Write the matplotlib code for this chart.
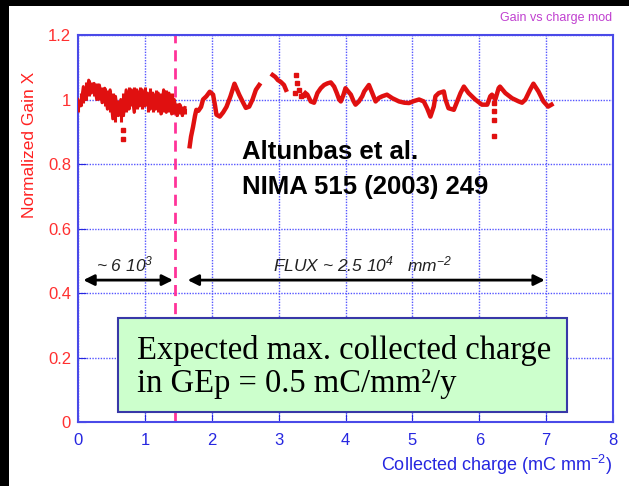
import matplotlib
matplotlib.use("Agg")
import matplotlib.pyplot as plt
from matplotlib.patches import Rectangle

plt.rcParams["mathtext.fontset"] = "custom"
plt.rcParams["mathtext.it"] = "Liberation Sans:italic"
plt.rcParams["mathtext.rm"] = "Liberation Sans:italic"

# noisy part of the scan: lower / upper edge of the scatter band
noisy_x = [0.00, 0.04, 0.08, 0.12, 0.16, 0.20, 0.24, 0.28, 0.32, 0.36, 0.40, 0.44,
           0.48, 0.52, 0.56, 0.60, 0.64, 0.68, 0.72, 0.76, 0.80, 0.84, 0.88, 0.92,
           0.96, 1.00, 1.04, 1.08, 1.12, 1.16, 1.20, 1.24, 1.28, 1.32, 1.36, 1.40,
           1.44, 1.48, 1.52, 1.56, 1.60]
noisy_lo = [0.96, 0.98, 0.99, 1.00, 1.01, 1.02, 1.01, 1.00, 1.00, 0.99, 0.98, 0.97,
            0.96, 0.94, 0.93, 0.95, 0.93, 0.95, 0.96, 0.97, 0.98, 0.96, 0.97, 0.98,
            0.97, 0.98, 0.96, 0.97, 0.96, 0.97, 0.96, 0.955, 0.96, 0.96, 0.96, 0.955,
            0.955, 0.95, 0.955, 0.95, 0.955]
noisy_hi = [1.00, 1.02, 1.04, 1.055, 1.06, 1.055, 1.05, 1.05, 1.045, 1.04, 1.035, 1.03,
            1.03, 1.02, 1.01, 1.00, 1.00, 1.02, 1.03, 1.04, 1.03, 1.04, 1.03, 1.04,
            1.03, 1.04, 1.02, 1.035, 1.02, 1.03, 1.02, 1.02, 1.03, 1.03, 1.02, 1.02,
            1.00, 0.99, 0.985, 0.98, 0.975]

seg_a_x = [1.67, 1.69, 1.72, 1.75, 1.77, 1.80, 1.84, 1.87, 1.92, 1.97, 2.02, 2.05,
           2.07, 2.12, 2.17, 2.22, 2.28, 2.34, 2.41, 2.47, 2.51, 2.56, 2.61, 2.66, 2.71]
seg_a_y = [0.855, 0.885, 0.915, 0.95, 0.968, 0.965, 0.977, 1.0, 1.01, 1.024, 1.015, 0.98,
           0.953, 0.947, 0.96, 0.977, 1.01, 1.049, 1.015, 0.99, 0.974, 0.978, 1.0, 1.03, 1.045]

seg_b_x = [2.91, 2.95, 2.99, 3.03, 3.08, 3.11]
seg_b_y = [1.076, 1.07, 1.06, 1.055, 1.045, 1.03]

seg_c_x = [3.40, 3.43, 3.48, 3.53, 3.58, 3.63, 3.68, 3.73, 3.78, 3.83, 3.87, 3.905,
           3.93, 3.97, 4.00, 4.04, 4.08, 4.12, 4.15, 4.20, 4.25, 4.28, 4.35, 4.40,
           4.45, 4.50, 4.55, 4.62, 4.70, 4.80, 4.88, 4.95, 5.02, 5.10, 5.17, 5.22,
           5.27, 5.32, 5.345, 5.395, 5.47, 5.495, 5.54, 5.62, 5.67, 5.72, 5.77, 5.84,
           5.94, 6.04, 6.12, 6.165, 6.19, 6.24, 6.29, 6.31, 6.39, 6.49, 6.59, 6.64,
           6.69, 6.76, 6.81, 6.885, 6.96, 7.03, 7.08]
seg_c_y = [1.02, 1.015, 0.994, 0.99, 1.02, 1.035, 1.045, 1.05, 1.053, 1.04, 1.02, 1.0,
           0.994, 1.015, 1.035, 1.025, 1.015, 0.995, 0.984, 0.994, 1.01, 1.025, 1.045, 1.02,
           0.994, 1.005, 1.01, 1.015, 1.004, 0.994, 0.99, 0.989, 0.995, 1.0, 0.994, 0.973,
           0.947, 0.978, 1.01, 1.02, 1.025, 1.0, 0.973, 0.968, 0.994, 1.02, 1.04, 1.02,
           1.0, 0.984, 0.984, 1.01, 1.015, 1.0, 1.035, 1.04, 1.02, 1.004, 0.994, 0.99,
           1.0, 1.03, 1.049, 1.025, 0.994, 0.978, 0.984]

# stray points
dots_x = [0.67, 0.67, 3.24, 3.26, 3.27, 3.31, 3.33, 3.36, 6.215, 6.215, 6.215, 6.215]
dots_y = [0.906, 0.879, 1.02, 1.076, 1.05, 1.03, 1.01, 1.015, 0.989, 0.963, 0.935, 0.886]

xticks = [0, 1, 2, 3, 4, 5, 6, 7, 8]
yticks = [0, 0.2, 0.4, 0.6, 0.8, 1.0, 1.2]
ytick_labels = ["0", "0.2", "0.4", "0.6", "0.8", "1", "1.2"]
cut_x = 1.445

red = "#e01010"
blue = "#2626e0"

fig = plt.figure(figsize=(6.29, 4.86), dpi=100)
ax = fig.add_axes([78 / 629, 1 - 422 / 486, 535 / 629, 387 / 486])

ax.set_xlim(0, 8)
ax.set_ylim(0, 1.2)
ax.set_xticks(xticks)
ax.set_yticks(yticks)
ax.set_yticklabels(ytick_labels)
ax.grid(True, color="#5555ff", linestyle=(0, (1, 1)), linewidth=1.0)
ax.set_axisbelow(True)
for s in ax.spines.values():
    s.set_color("#4a4ae8")
    s.set_linewidth(1.5)
ax.tick_params(axis="x", direction="in", length=6, color=blue, labelcolor=blue,
               labelsize=12, pad=8)
ax.tick_params(axis="y", direction="in", length=6, color=blue, labelcolor="#ff3030",
               labelsize=12, pad=5)
for lab in ax.get_xticklabels() + ax.get_yticklabels():
    lab.set_family("Liberation Sans")

# data
ax.vlines(noisy_x, noisy_lo, noisy_hi, color=red, linewidth=2.2, zorder=3)
zig_y = [lo if i % 2 else hi for i, (lo, hi) in enumerate(zip(noisy_lo, noisy_hi))]
ax.plot(noisy_x, zig_y, color=red, linewidth=2.2, zorder=3)
ax.plot(seg_a_x, seg_a_y, color=red, linewidth=3.2, zorder=3)
ax.plot(seg_b_x, seg_b_y, color=red, linewidth=3.2, zorder=3)
ax.plot(seg_c_x, seg_c_y, color=red, linewidth=3.2, zorder=3)
ax.plot(dots_x, dots_y, "s", color=red, markersize=3.2, zorder=3)

ax.axvline(cut_x, color="#ff3399", linestyle=(0, (4, 2.5)), linewidth=2, zorder=2)

# arrows
ax.annotate("", xy=(0.08, 0.44), xytext=(1.42, 0.44),
            arrowprops=dict(arrowstyle="<|-|>", color="black", lw=2,
                            mutation_scale=16, shrinkA=0, shrinkB=0))
ax.annotate("", xy=(1.64, 0.44), xytext=(6.98, 0.44),
            arrowprops=dict(arrowstyle="<|-|>", color="black", lw=2,
                            mutation_scale=16, shrinkA=0, shrinkB=0))
ax.text(0.7, 0.49, r"~ 6 10$^{3}$", ha="center", va="center", fontsize=12.5,
        style="italic", family="Liberation Sans", color="#222222")
ax.text(4.25, 0.49, r"FLUX ~ 2.5 10$^{4}$   mm$^{\mathregular{-2}}$", ha="center",
        va="center", fontsize=12.5, style="italic", family="Liberation Sans",
        color="#222222")

ax.text(2.45, 0.783, "Altunbas et al.\nNIMA 515 (2003) 249", ha="left", va="center",
        fontsize=18.5, fontweight="bold", family="Liberation Sans", linespacing=1.55)

# green box (on top of the dashed line)
box = Rectangle((118 / 629, 1 - 412 / 486), 449 / 629, 94 / 486, transform=fig.transFigure,
                facecolor="#ccffcc", edgecolor="#3838a8", linewidth=1.5, zorder=10,
                clip_on=False)
ax.add_patch(box)
ax.text(137 / 629, 1 - 367 / 486, "Expected max. collected charge\nin GEp = 0.5 mC/mm\u00b2/y",
        transform=fig.transFigure, ha="left", va="center", fontsize=23.5,
        family="Liberation Serif", zorder=11, linespacing=1.1)

# labels
fig.text(30 / 629, 1 - 145 / 486, "Normalized Gain X", rotation=90, ha="center", va="center",
         color="#ff2222", fontsize=12.5, family="Liberation Sans")
fig.text(612 / 629, 1 - 465 / 486, "Collected charge (mC mm$^{\mathregular{-2}}$)",
         ha="right", va="center", color=blue, fontsize=13, family="Liberation Sans")
fig.text(612 / 629, 1 - 18 / 486, "Gain vs charge mod", ha="right", va="center",
         color="#c040d0", fontsize=9, family="Liberation Sans")

# black frame strips of the slide
fig.patches.append(Rectangle((0, 0), 9 / 629, 1, transform=fig.transFigure,
                             facecolor="black", edgecolor="none"))
fig.patches.append(Rectangle((0, 1 - 6 / 486), 1, 6 / 486, transform=fig.transFigure,
                             facecolor="black", edgecolor="none"))

fig.savefig("out.png", dpi=100)
